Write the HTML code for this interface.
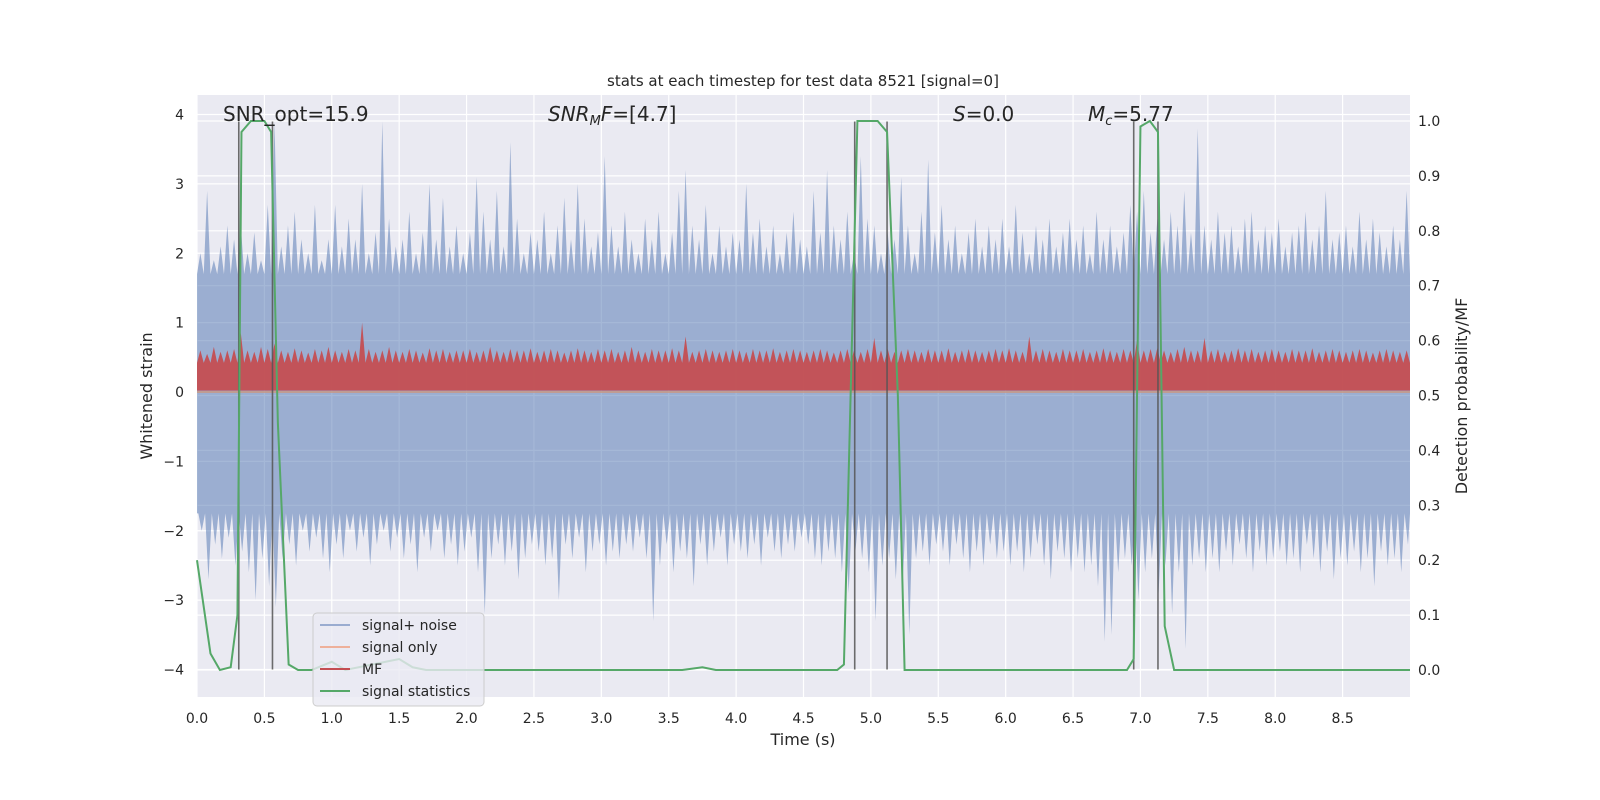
<!DOCTYPE html>
<html><head><meta charset="utf-8"><style>
body{margin:0;background:#fff;}
svg{display:block;font-family:"DejaVu Sans","Liberation Sans",sans-serif;}
</style></head><body>
<svg id="chart" width="1600" height="800" viewBox="0 0 1600 800" xmlns="http://www.w3.org/2000/svg">
<rect x="0" y="0" width="1600" height="800" fill="#fff"/>
<rect x="197" y="95" width="1213" height="602" fill="#eaeaf2"/>
<g id="grid"></g><g id="noise"></g><g id="sigonly"></g><g id="mf"></g><g id="gray"></g><g id="green"></g><g id="ticks"></g>
<text x="803" y="86" font-size="15" text-anchor="middle" fill="#262626">stats at each timestep for test data 8521 [signal=0]</text>
<text x="803" y="745" font-size="16" text-anchor="middle" fill="#262626">Time (s)</text>
<text transform="translate(152,396) rotate(-90)" font-size="16" text-anchor="middle" fill="#262626">Whitened strain</text>
<text transform="translate(1467,396) rotate(-90)" font-size="16" text-anchor="middle" fill="#262626">Detection probability/MF</text>
<text x="223" y="121" font-size="20" fill="#262626">SNR_opt=15.9</text>
<text x="548" y="121" font-size="20" fill="#262626"><tspan font-style="italic">SNR</tspan><tspan font-style="italic" font-size="13" dy="4">M</tspan><tspan font-style="italic" dy="-4">F</tspan>=[4.7]</text>
<text x="953" y="121" font-size="20" fill="#262626"><tspan font-style="italic">S</tspan>=0.0</text>
<text x="1088" y="121" font-size="20" fill="#262626"><tspan font-style="italic">M</tspan><tspan font-style="italic" font-size="13" dy="4">c</tspan><tspan dy="-4">=5.77</tspan></text>
<g>
<rect x="313" y="613" width="171" height="93" rx="4" fill="#eaeaf2" fill-opacity="0.8" stroke="#cccccc"/>
<g><line x1="320" y1="625" x2="350" y2="625" stroke="#9aacd0" stroke-width="2"/><text x="362" y="630" font-size="14" fill="#262626">signal+ noise</text></g>
<g><line x1="320" y1="647" x2="350" y2="647" stroke="#eeb09a" stroke-width="2"/><text x="362" y="652" font-size="14" fill="#262626">signal only</text></g>
<g><line x1="320" y1="669" x2="350" y2="669" stroke="#c44e52" stroke-width="2"/><text x="362" y="674" font-size="14" fill="#262626">MF</text></g>
<g><line x1="320" y1="691" x2="350" y2="691" stroke="#55a868" stroke-width="2"/><text x="362" y="696" font-size="14" fill="#262626">signal statistics</text></g>
</g>
</svg>
<script>
const binStep = 0.05;
const noiseUpper = [2.0,2.9,1.9,2.1,2.4,2.2,2.4,2.0,2.3,1.9, 2.7,3.9,2.1,2.4,2.6,2.2,2.0,2.7,1.9,2.2,
2.7,2.1,2.5,2.2,3.0,2.0,2.3,3.9,2.5,2.1, 2.2,2.6,2.0,2.3,3.0,2.2,2.8,2.1,2.4,2.0,
2.3,3.1,2.6,2.2,2.9,2.1,3.6,2.5,2.0,2.3, 2.2,2.6,2.0,2.4,2.8,2.2,3.0,2.5,2.1,2.3,
3.4,2.4,2.1,2.6,2.2,2.0,2.5,2.2,2.6,2.0, 2.3,2.9,3.2,2.4,2.2,2.7,2.0,2.4,2.1,2.3,
2.2,3.0,2.3,2.5,2.1,2.4,2.0,2.3,2.6,2.2, 2.1,2.9,2.3,3.2,2.4,2.2,2.6,2.0,3.4,2.5,
2.4,2.0,2.3,2.2,3.1,2.4,2.0,2.6,3.35,2.3, 2.7,2.2,2.4,2.0,2.3,2.5,2.1,2.4,2.2,2.5,
2.1,2.7,2.3,2.0,2.4,2.2,2.5,2.1,2.3,2.5, 2.2,2.4,2.0,2.6,2.2,2.4,2.1,2.3,2.7,2.6,
2.9,2.3,2.5,2.2,2.6,2.4,2.9,2.3,3.8,2.4, 2.2,2.6,2.3,2.4,2.1,2.5,2.6,2.2,2.4,2.3,
2.5,2.1,2.3,2.4,2.6,2.2,2.4,2.9,2.2,2.3, 2.4,2.1,2.6,2.2,2.5,2.3,2.1,2.4,2.2,2.9];
const noiseLower = [-2.0,-2.7,-2.2,-2.4,-2.1,-2.5,-2.3,-2.6,-3.0,-2.4, -2.8,-3.1,-2.4,-2.2,-2.5,-2.0,-2.3,-2.1,-2.4,-2.6,
-2.2,-2.4,-2.0,-2.3,-2.1,-2.5,-2.2,-2.0,-2.3,-2.1, -2.4,-2.2,-2.6,-2.1,-2.3,-2.0,-2.4,-2.2,-2.5,-2.3,
-2.1,-2.6,-3.2,-2.4,-2.2,-2.5,-2.3,-2.7,-2.4,-2.2, -2.3,-2.5,-2.4,-3.0,-2.2,-2.4,-2.1,-2.6,-2.3,-2.2,
-2.5,-2.3,-2.4,-2.2,-2.3,-2.1,-2.4,-3.3,-2.5,-2.2, -2.6,-2.3,-2.4,-2.8,-2.2,-2.5,-2.3,-2.1,-2.5,-2.2,
-2.3,-2.4,-2.2,-2.5,-2.1,-2.3,-2.4,-2.2,-2.3,-2.1, -2.2,-2.4,-2.5,-2.3,-2.4,-2.6,-2.9,-2.3,-2.4,-2.6,
-3.3,-2.5,-2.4,-2.7,-2.8,-3.5,-2.4,-2.3,-2.5,-2.2, -2.3,-2.5,-2.2,-2.4,-2.6,-2.3,-2.5,-2.2,-2.4,-2.3,
-2.5,-2.3,-2.6,-2.4,-2.2,-2.5,-2.7,-2.3,-2.4,-2.6, -2.4,-2.6,-2.5,-2.8,-3.6,-3.5,-2.6,-2.4,-2.5,-3.0,
-2.6,-2.4,-2.9,-2.5,-3.2,-2.6,-3.7,-2.5,-2.4,-2.6, -2.4,-2.6,-2.3,-2.5,-2.2,-2.4,-2.6,-2.3,-2.5,-2.4,
-2.3,-2.5,-2.4,-2.6,-2.2,-2.4,-2.6,-2.3,-2.7,-2.4, -2.5,-2.3,-2.6,-2.4,-2.8,-2.3,-2.5,-2.4,-2.6,-2.2];
const mfTop = [0.6,0.55,0.65,0.58,0.6,0.62,0.85,0.6,0.58,0.65, 0.62,0.7,0.6,0.58,0.63,0.6,0.57,0.62,0.6,0.65,
0.6,0.58,0.62,0.6,1.0,0.62,0.58,0.6,0.65,0.6, 0.58,0.62,0.6,0.57,0.63,0.6,0.62,0.58,0.6,0.6,
0.62,0.58,0.6,0.65,0.6,0.58,0.62,0.6,0.6,0.63, 0.58,0.6,0.62,0.6,0.57,0.6,0.63,0.6,0.58,0.62,
0.6,0.62,0.58,0.6,0.65,0.6,0.58,0.62,0.6,0.6, 0.63,0.6,0.8,0.58,0.6,0.62,0.6,0.58,0.6,0.62,
0.6,0.58,0.62,0.6,0.6,0.63,0.58,0.6,0.62,0.6, 0.58,0.6,0.62,0.6,0.57,0.6,0.62,0.6,0.58,0.62,
0.78,0.6,0.62,0.58,0.6,0.62,0.6,0.58,0.62,0.6, 0.6,0.63,0.58,0.6,0.62,0.6,0.58,0.6,0.62,0.6,
0.63,0.6,0.58,0.8,0.6,0.62,0.6,0.58,0.62,0.6, 0.6,0.62,0.58,0.6,0.63,0.6,0.58,0.62,0.6,0.75,
0.6,0.62,0.63,0.6,0.58,0.62,0.65,0.6,0.6,0.78, 0.6,0.62,0.58,0.6,0.63,0.6,0.62,0.58,0.6,0.62,
0.6,0.58,0.62,0.6,0.6,0.63,0.58,0.6,0.62,0.6, 0.58,0.6,0.62,0.6,0.57,0.6,0.62,0.6,0.58,0.6];
const statT = [0,0.1,0.17,0.25,0.3,0.33,0.4,0.5,0.55,0.6,0.68,0.75,0.85,1.0,1.1,1.4,1.5,1.6,1.7,3.6,3.75,3.85,4.75,4.8,4.9,5.05,5.12,5.2,5.25,5.3,6.9,6.95,7.0,7.07,7.13,7.18,7.25,9.0];
const statP = [0.2,0.03,0.0,0.005,0.1,0.98,1.0,1.0,0.98,0.45,0.01,0.0,0.0,0.015,0.0,0.015,0.02,0.005,0.0,0.0,0.005,0.0,0.0,0.01,1.0,1.0,0.98,0.5,0.0,0.0,0.0,0.02,0.99,1.0,0.98,0.08,0.0,0.0];
const markerT = [0.31,0.56,4.88,5.12,6.95,7.13];
const xTicks = ["0.0","0.5","1.0","1.5","2.0","2.5","3.0","3.5","4.0","4.5","5.0","5.5","6.0","6.5","7.0","7.5","8.0","8.5"];
const yTicksLeft = [-4,-3,-2,-1,0,1,2,3,4];
const yTicksRight = ["0.0","0.1","0.2","0.3","0.4","0.5","0.6","0.7","0.8","0.9","1.0"];

const NS="http://www.w3.org/2000/svg";
const X0=197,X1=1410,T0=0,T1=9.0;
const sx=t=>X0+(t-T0)/(T1-T0)*(X1-X0);
const syL=v=>392-v*69.375;
const syR=p=>670-p*549;
function mk(tag,attrs,parent){const e=document.createElementNS(NS,tag);for(const k in attrs)e.setAttribute(k,attrs[k]);parent.appendChild(e);return e;}
const grid=document.getElementById('grid'),ticks=document.getElementById('ticks');
xTicks.forEach(s=>{const x=sx(parseFloat(s));
 const l=mk('line',{x1:x,x2:x,y1:95,y2:697,stroke:'#fff','stroke-width':1.2},grid);
 
 const t=mk('text',{x:x,y:723,'font-size':14,'text-anchor':'middle',fill:'#262626'},ticks);t.textContent=s;
 });
yTicksLeft.forEach(v=>{const y=syL(v);
 const l=mk('line',{x1:197,x2:1410,y1:y,y2:y,stroke:'#fff','stroke-width':1.2},grid);
 
 const t=mk('text',{x:184,y:y+5,'font-size':14,'text-anchor':'end',fill:'#262626'},ticks);t.textContent=(v<0?'\u2212'+(-v):v);
 });
yTicksRight.forEach(s=>{const y=syR(parseFloat(s));
 const l=mk('line',{x1:197,x2:1410,y1:y,y2:y,stroke:'#fff','stroke-width':1.2},grid);
 
 const t=mk('text',{x:1418,y:y+5,'font-size':14,fill:'#262626'},ticks);t.textContent=s;
 });
// noise band
let pts=[];
noiseUpper.forEach((v,i)=>{const t=i*binStep;pts.push([sx(t),syL(1.7)],[sx(t+0.025),syL(v)]);});
pts.push([sx(9.0),syL(1.7)]);
pts.push([sx(9.0),syL(-1.75)]);
for(let i=noiseLower.length-1;i>=0;i--){const t=i*binStep;pts.push([sx(t+0.035),syL(noiseLower[i])],[sx(t+0.01),syL(-1.75)]);}
pts.push([sx(0),syL(-1.75)]);
const np=mk('polygon',{points:pts.map(p=>p.join(',')).join(' '),fill:'#4c72b0','fill-opacity':0.5},document.getElementById('noise'));

// signal only
const so=mk('line',{x1:X0,x2:X1,y1:syL(0),y2:syL(0),stroke:'#dd8452','stroke-opacity':0.5,'stroke-width':2},document.getElementById('sigonly'));

// MF
let mp=[[sx(0),syL(0.02)]];
mfTop.forEach((v,i)=>{const t=i*binStep;mp.push([sx(t),syL(0.42)],[sx(t+0.025),syL(v)]);});
mp.push([sx(9.0),syL(0.42)],[sx(9.0),syL(0.02)]);
const mfp=mk('polygon',{points:mp.map(p=>p.join(',')).join(' '),fill:'#c44e52','fill-opacity':0.95},document.getElementById('mf'));

// gray markers
markerT.forEach(t=>{const l=mk('line',{x1:sx(t),x2:sx(t),y1:syL(3.9),y2:syL(-4),stroke:'#555','stroke-opacity':0.85,'stroke-width':1.6},document.getElementById('gray'));
 });
// green
const gp=mk('polyline',{points:statT.map((t,i)=>sx(t)+','+syR(statP[i])).join(' '),fill:'none',stroke:'#55a868','stroke-width':2},document.getElementById('green'));

</script>
</body></html>
